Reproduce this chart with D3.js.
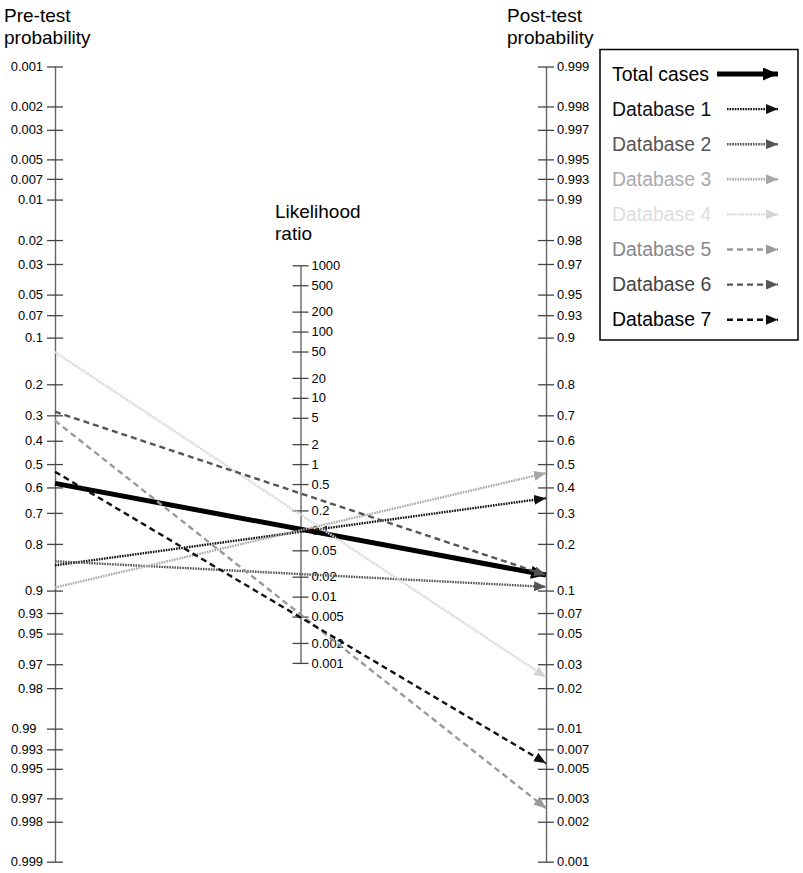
<!DOCTYPE html>
<meta charset="utf-8">
<style>
body { margin: 0; background: #fff; }
text { font-family: "Liberation Sans", Arial, sans-serif; }
</style>
<body>
<script src="https://cdn.jsdelivr.net/npm/d3@7"></script>
<script>

// series names and read-off values (pre-test prob. on left axis, post-test prob. on right axis)
var series = ["Total cases", "Database 1", "Database 2", "Database 3",
              "Database 4", "Database 5", "Database 6", "Database 7"];
var preTest  = [0.583, 0.853, 0.844, 0.895, 0.125, 0.320, 0.287, 0.533];
var postTest = [0.127, 0.356, 0.106, 0.461, 0.0241, 0.00253, 0.127, 0.00551];

// tick values for the three scales
var probTicks = [0.001, 0.002, 0.003, 0.005, 0.007, 0.01, 0.02, 0.03, 0.05, 0.07,
                 0.1, 0.2, 0.3, 0.4, 0.5, 0.6, 0.7, 0.8, 0.9, 0.93, 0.95, 0.97,
                 0.98, 0.99, 0.993, 0.995, 0.997, 0.998, 0.999];
var lrTicks = [1000, 500, 200, 100, 50, 20, 10, 5, 2, 1, 0.5, 0.2, 0.1,
               0.05, 0.02, 0.01, 0.005, 0.002, 0.001];

// line styles, one per series
var lineColor = ["#000", "#111", "#555", "#a8a8a8", "#d4d4d4", "#999", "#555", "#111"];
var textColor = ["#000", "#111", "#555", "#aaa", "#ddd", "#888", "#444", "#000"];
var lineDash  = [null, "1.6,1", "1.6,1", "1.6,1", "1.6,1", "6,4", "6,4", "6,4"];
var lineWidth = [5, 2.4, 2.4, 2.4, 2.4, 2.4, 2.4, 2.4];

var W = 803, H = 873;
var xLeft = 55, xRight = 546, xMid = (xLeft + xRight) / 2;
var yTop = 66.5, yBot = 861.7;

function logit(p) { return Math.log(p / (1 - p)); }

var yPre  = d3.scaleLinear().domain([logit(0.001), logit(0.999)]).range([yTop, yBot]);
var yPost = d3.scaleLinear().domain([logit(0.999), logit(0.001)]).range([yTop, yBot]);
// LR axis: half the scale of the probability axes, centred on LR = 1
var mid = (yTop + yBot) / 2, half = (yBot - yTop) / 4;
var yLR = d3.scaleLog().domain([1000, 0.001]).range([mid - half, mid + half]);

var svg = d3.select("body").append("svg")
    .attr("width", W)
    .attr("height", H);

// arrow markers
var defs = svg.append("defs");
series.forEach(function(s, i) {
  var big = i === 0;
  var L = big ? 15 : 12, Hh = big ? 13 : 10;
  defs.append("marker")
      .attr("id", "arr" + i)
      .attr("markerUnits", "userSpaceOnUse")
      .attr("markerWidth", L).attr("markerHeight", Hh)
      .attr("refX", L).attr("refY", Hh / 2)
      .attr("orient", "auto")
    .append("path")
      .attr("d", "M0,0L" + L + "," + (Hh / 2) + "L0," + Hh + "Z")
      .attr("fill", lineColor[i]);
});

function styleAxis(g, side) {
  g.select(".domain").attr("stroke", "#666").attr("stroke-width", 1.4);
  g.selectAll(".tick line").attr("x1", -8).attr("x2", 8)
      .attr("stroke", "#444").attr("stroke-width", 1.3);
  g.selectAll(".tick text")
      .attr("x", side === "left" ? -12 : 11)
      .attr("font-size", "12.9px")
      .attr("font-family", '"Liberation Sans", Arial, sans-serif')
      .attr("fill", "#000");
  g.attr("font-family", null).attr("font-size", null);
}

// pre-test axis
svg.append("g")
    .attr("transform", "translate(" + xLeft + ",0)")
    .call(d3.axisLeft(yPre).tickValues(probTicks.map(logit)).tickSizeOuter(0)
      .tickFormat(function(d, i) { return probTicks[i] === 0.99 ? "0.99\u2002" : String(probTicks[i]); }))
    .call(styleAxis, "left");

// post-test axis
svg.append("g")
    .attr("transform", "translate(" + xRight + ",0)")
    .call(d3.axisRight(yPost).tickValues(probTicks.map(logit)).tickSizeOuter(0)
      .tickFormat(function(d, i) { return String(probTicks[i]); }))
    .call(styleAxis, "right");

// likelihood ratio axis
svg.append("g")
    .attr("transform", "translate(" + xMid + ",0)")
    .call(d3.axisRight(yLR).tickValues(lrTicks).tickSizeOuter(0)
      .tickFormat(function(d) { return String(d); }))
    .call(styleAxis, "right");

// titles
function title(x, y0, lines) {
  var t = svg.append("text").attr("x", x).attr("font-size", "19px").attr("fill", "#000");
  lines.forEach(function(l, j) {
    t.append("tspan").attr("x", x).attr("y", y0 + j * 22).text(l);
  });
}
title(4, 22, ["Pre-test", "probability"]);
title(507, 22, ["Post-test", "probability"]);
title(275, 218, ["Likelihood", "ratio"]);

// nomogram lines
series.forEach(function(s, i) {
  svg.append("line")
      .attr("x1", xLeft).attr("y1", yPre(logit(preTest[i])))
      .attr("x2", xRight).attr("y2", yPost(logit(postTest[i])))
      .attr("stroke", lineColor[i])
      .attr("stroke-width", lineWidth[i])
      .attr("stroke-dasharray", lineDash[i])
      .attr("marker-end", "url(#arr" + i + ")");
});

// legend
var leg = svg.append("g");
leg.append("rect")
    .attr("x", 600).attr("y", 49.5).attr("width", 198).attr("height", 290.5)
    .attr("fill", "#fff").attr("stroke", "#000").attr("stroke-width", 1.5);
series.forEach(function(s, i) {
  var y = 74 + i * 35.1;
  leg.append("text")
      .attr("x", 612).attr("y", y).attr("dy", "0.35em")
      .attr("font-size", "19.4px")
      .attr("fill", textColor[i])
      .text(s);
  leg.append("line")
      .attr("x1", i === 0 ? 717 : 727).attr("y1", y)
      .attr("x2", 778).attr("y2", y)
      .attr("stroke", lineColor[i])
      .attr("stroke-width", lineWidth[i])
      .attr("stroke-dasharray", lineDash[i])
      .attr("marker-end", "url(#arr" + i + ")");
});

</script>
</body>
